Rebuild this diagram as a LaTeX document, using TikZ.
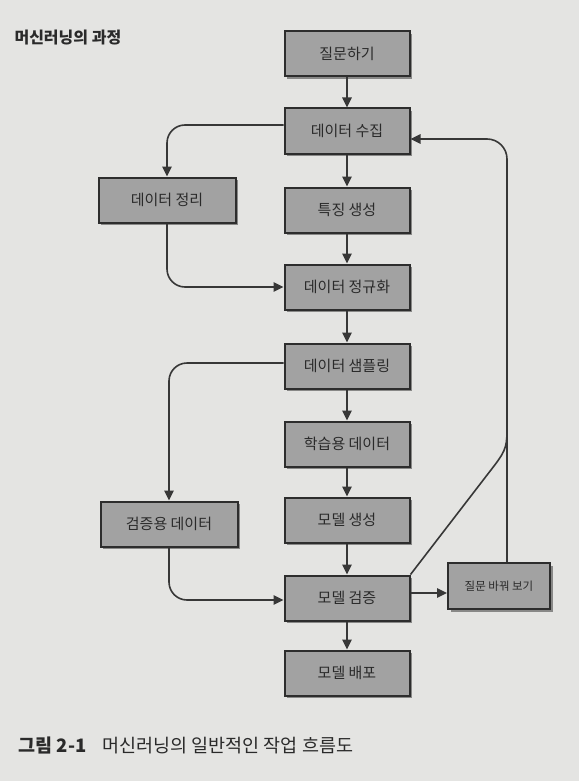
\documentclass[tikz,border=0pt]{standalone}
\usepackage{fontspec}
\setmainfont{Noto Sans CJK KR}
\usetikzlibrary{arrows.meta,shadows}
\definecolor{bgc}{RGB}{228,228,226}
\definecolor{boxc}{RGB}{162,162,162}
\definecolor{edgec}{RGB}{45,45,45}
\definecolor{linec}{RGB}{55,55,55}
\definecolor{txtc}{RGB}{42,42,42}
\tikzset{
  stepbox/.style={draw=edgec, line width=2pt, fill=boxc, text=txtc,
    minimum width=125pt, minimum height=45pt, inner sep=0pt,
    font=\fontsize{15}{17}\selectfont,
    drop shadow={shadow xshift=2.5pt, shadow yshift=-2.5pt, fill=black, opacity=0.4}},
  sidebox/.style={stepbox, minimum width=137pt},
  smallbox/.style={stepbox, minimum width=102pt, minimum height=46pt,
    font=\fontsize{11.5}{13}\selectfont},
  arr/.style={draw=linec, line width=1.6pt, -{Triangle[length=10pt,width=9.5pt]}},
  plain/.style={draw=linec, line width=1.6pt}
}
\begin{document}
\begin{tikzpicture}[x=1pt, y=-1pt]
\fill[bgc] (0,0) rectangle (579,781);
\useasboundingbox (0,0) rectangle (579,781);

\node[anchor=west, text=txtc, font=\fontsize{16}{18}\selectfont\bfseries] (title) at (11,38) {머신러닝의 과정};

\node[stepbox] (q) at (347,54) {질문하기};
\node[stepbox] (collect) at (347,131) {데이터 수집};
\node[stepbox] (feat) at (347,210) {특징 생성};
\node[stepbox] (norm) at (347,287) {데이터 정규화};
\node[stepbox] (sample) at (347,366) {데이터 샘플링};
\node[stepbox] (train) at (347,444) {학습용 데이터};
\node[stepbox] (build) at (347,520) {모델 생성};
\node[stepbox] (valid) at (347,598) {모델 검증};
\node[stepbox] (deploy) at (347,673) {모델 배포};
\node[sidebox] (clean) at (167,200) {데이터 정리};
\node[sidebox] (valdata) at (169,524) {검증용 데이터};
\node[smallbox] (change) at (499,586) {질문 바꿔 보기};

\coordinate (ret) at (507,0);
\coordinate (join) at (507,425);
\coordinate (vc) at (0,593);

\draw[arr] (q) -- (collect);
\draw[arr] (collect) -- (feat);
\draw[arr] (feat) -- (norm);
\draw[arr] (norm) -- (sample);
\draw[arr] (sample) -- (train);
\draw[arr] (train) -- (build);
\draw[arr] (build) -- (valid);
\draw[arr] (valid) -- (deploy);

\draw[arr, rounded corners=18pt] ([yshift=6pt]collect.west) -| (clean.north);
\draw[arr, rounded corners=18pt] (clean.south) |- (norm.west);
\draw[arr, rounded corners=18pt] ([yshift=3pt]sample.west) -| (valdata.north);
\draw[arr, rounded corners=18pt] (valdata.south) |- ([yshift=-2pt]valid.west);
\draw[arr] (valid.east |- vc) -- (change.west |- vc);
\draw[arr, rounded corners=20pt] (ret |- change.north) |- ([yshift=-8pt]collect.east);
\draw[plain] (valid.north east) -- (494,466) .. controls (507,449) and (507,445) .. (join);

\node[anchor=base west, text=txtc, font=\fontsize{18.5}{20}\selectfont] (cap) at (15,752)
  {{\bfseries 그림 2-1}\hspace{16pt}머신러닝의 일반적인 작업 흐름도};
\end{tikzpicture}
\end{document}
